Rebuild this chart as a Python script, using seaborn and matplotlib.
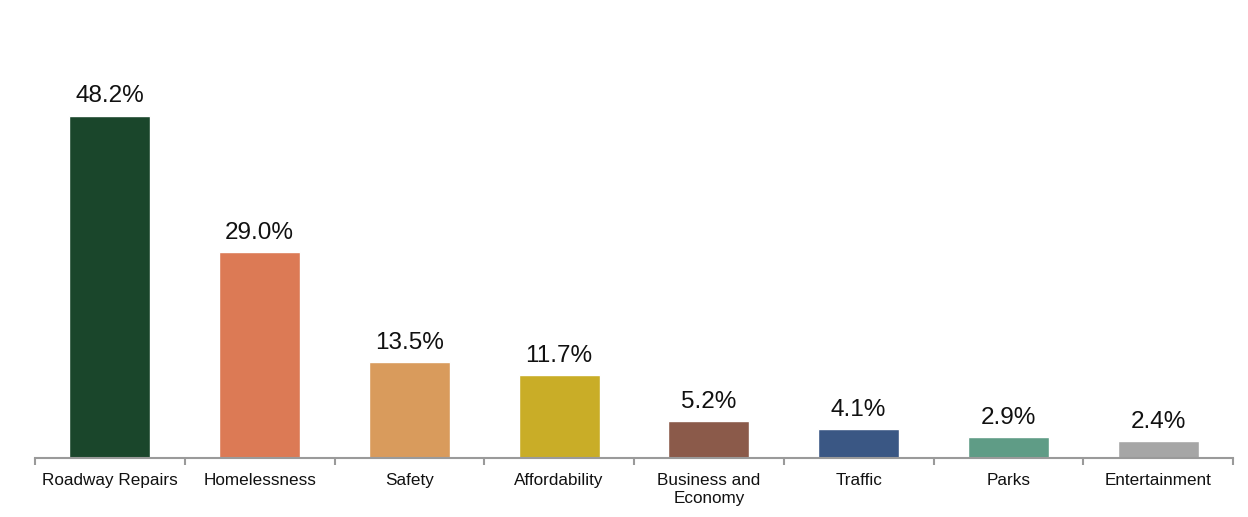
import matplotlib
matplotlib.use("Agg")
import matplotlib.pyplot as plt
import seaborn as sns
import numpy as np
import pandas as pd

sns.set_theme(style="white")
plt.rcParams['font.family'] = ['Liberation Sans', 'DejaVu Sans']

categories = ['Roadway Repairs', 'Homelessness', 'Safety', 'Affordability',
              'Business and\nEconomy', 'Traffic', 'Parks', 'Entertainment']
values = [48.2, 29.0, 13.5, 11.7, 5.2, 4.1, 2.9, 2.4]
colors = ['#1a462b', '#dc7a55', '#d99b5c', '#c9ad27',
          '#8b5a4a', '#3a5784', '#5f9c86', '#a6a6a6']

df = pd.DataFrame({'cat': categories, 'val': values})

fig = plt.figure(figsize=(12.48, 5.17), dpi=100)
ax = fig.add_axes([35/1248, 59/517, 1198/1248, 418/517])

sns.barplot(data=df, x='cat', y='val', hue='cat', palette=colors,
            legend=False, width=0.54, saturation=1, ax=ax)

ax.set_ylim(0, 418/7.1)
ax.set_xlim(-0.5, len(categories) - 0.5)
for i, v in enumerate(values):
    ax.annotate(f"{v:.1f}%", (i, v), xytext=(0, 6), textcoords='offset points',
                ha='center', va='bottom', fontsize=17.5, color='#111111')

ax.set_xlabel('')
ax.set_ylabel('')
ax.set_yticks([])
for s in ['top', 'right', 'left']:
    ax.spines[s].set_visible(False)
ax.spines['bottom'].set_color('#9a9a9a')
ax.spines['bottom'].set_linewidth(1.5)

ax.set_xticks(np.arange(len(categories)))
ax.set_xticklabels(categories, fontsize=12.3, color='#111111', linespacing=1.3)
ax.set_xticks(np.arange(-0.5, len(categories)), minor=True)
ax.tick_params(axis='x', which='major', length=0, pad=10.5)
ax.tick_params(axis='x', which='minor', length=5, width=1.5, color='#9a9a9a',
               direction='out', bottom=True)

fig.savefig('out.png', dpi=100)
